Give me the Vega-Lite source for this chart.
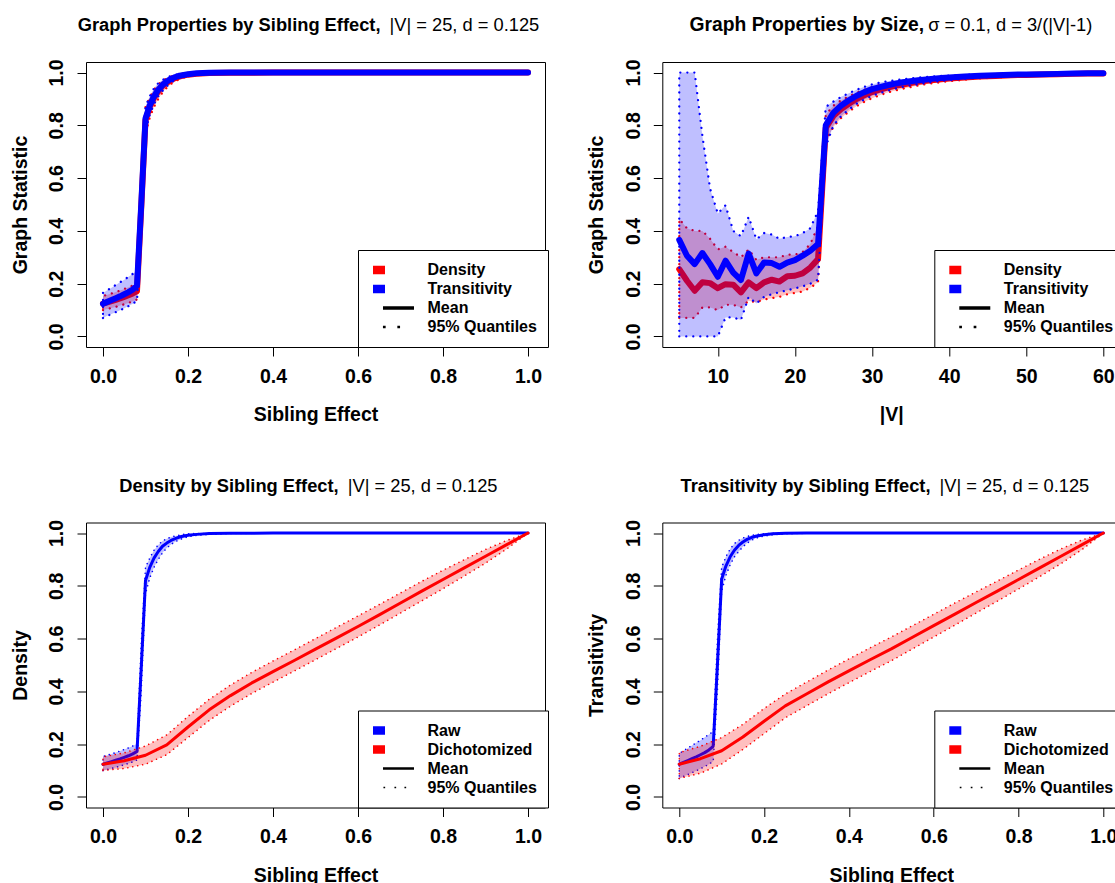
{
  "$schema": "https://vega.github.io/schema/vega-lite/v6.json",
  "padding": {"left": 9, "top": 15, "right": 0, "bottom": 0},
  "config": {
    "font": "Liberation Sans",
    "view": {"stroke": "black", "strokeWidth": 1},
    "axis": {"grid": false, "domain": false, "tickColor": "black", "tickSize": 9, "tickWidth": 1, "labelFont": "Liberation Sans", "labelFontSize": 19.5, "labelFontWeight": "bold", "labelColor": "black", "titleFont": "Liberation Sans", "titleFontSize": 19.5, "titleFontWeight": "bold", "titleColor": "black", "labelFlush": false, "labelOverlap": false},
    "axisBottom": {"labelBaseline": "alphabetic", "labelPadding": 26, "titleY": 73.75, "titleBaseline": "alphabetic"},
    "axisLeft": {"labelAngle": -90, "labelAlign": "center", "labelBaseline": "alphabetic", "labelPadding": 14.3, "titleX": -60, "titleBaseline": "alphabetic"},
    "axisTop": {"labels": false, "ticks": false, "domain": false, "grid": false, "titleY": -31.45, "titleBaseline": "alphabetic", "titleAngle": 0, "titleFontSize": 18.3},
    "legend": {"orient": "none", "legendX": 272, "legendY": 188, "title": null, "direction": "vertical", "strokeColor": "black", "fillColor": "white", "padding": 10.5, "symbolSize": 361, "symbolStrokeWidth": 0, "symbolOpacity": 1, "rowPadding": 0, "labelOffset": 40, "labelFont": "Liberation Sans", "labelFontSize": 16, "labelFontWeight": "bold", "labelColor": "black", "labelLimit": 400}
  },
  "resolve": {"scale": {"color": "independent", "shape": "independent"}, "legend": {"color": "independent", "shape": "independent"}},
  "datasets": {
    "p1": [
      {"x":0,"series":"Density","mean":0.124,"lo":0.100,"hi":0.153},
      {"x":0.01,"series":"Density","mean":0.129,"lo":0.104,"hi":0.158},
      {"x":0.02,"series":"Density","mean":0.134,"lo":0.108,"hi":0.163},
      {"x":0.03,"series":"Density","mean":0.139,"lo":0.112,"hi":0.168},
      {"x":0.04,"series":"Density","mean":0.144,"lo":0.117,"hi":0.174},
      {"x":0.05,"series":"Density","mean":0.150,"lo":0.122,"hi":0.180},
      {"x":0.06,"series":"Density","mean":0.156,"lo":0.127,"hi":0.186},
      {"x":0.07,"series":"Density","mean":0.163,"lo":0.133,"hi":0.193},
      {"x":0.08,"series":"Density","mean":0.172,"lo":0.140,"hi":0.202},
      {"x":0.09,"series":"Density","mean":0.49,"lo":0.40,"hi":0.58},
      {"x":0.10,"series":"Density","mean":0.82,"lo":0.77,"hi":0.87},
      {"x":0.11,"series":"Density","mean":0.87,"lo":0.83,"hi":0.905},
      {"x":0.12,"series":"Density","mean":0.905,"lo":0.87,"hi":0.935},
      {"x":0.13,"series":"Density","mean":0.93,"lo":0.90,"hi":0.955},
      {"x":0.14,"series":"Density","mean":0.95,"lo":0.925,"hi":0.97},
      {"x":0.15,"series":"Density","mean":0.962,"lo":0.943,"hi":0.978},
      {"x":0.16,"series":"Density","mean":0.972,"lo":0.957,"hi":0.985},
      {"x":0.17,"series":"Density","mean":0.979,"lo":0.967,"hi":0.989},
      {"x":0.18,"series":"Density","mean":0.985,"lo":0.975,"hi":0.992},
      {"x":0.19,"series":"Density","mean":0.989,"lo":0.981,"hi":0.995},
      {"x":0.20,"series":"Density","mean":0.992,"lo":0.986,"hi":0.997},
      {"x":0.22,"series":"Density","mean":0.995,"lo":0.991,"hi":0.998},
      {"x":0.25,"series":"Density","mean":0.998,"lo":0.995,"hi":0.999},
      {"x":0.30,"series":"Density","mean":0.999,"lo":0.998,"hi":1},
      {"x":0.40,"series":"Density","mean":1,"lo":1,"hi":1},
      {"x":0.50,"series":"Density","mean":1,"lo":1,"hi":1},
      {"x":0.60,"series":"Density","mean":1,"lo":1,"hi":1},
      {"x":0.70,"series":"Density","mean":1,"lo":1,"hi":1},
      {"x":0.80,"series":"Density","mean":1,"lo":1,"hi":1},
      {"x":0.90,"series":"Density","mean":1,"lo":1,"hi":1},
      {"x":1.00,"series":"Density","mean":1,"lo":1,"hi":1},
      {"x":0,"series":"Transitivity","mean":0.124,"lo":0.070,"hi":0.165},
      {"x":0.01,"series":"Transitivity","mean":0.131,"lo":0.078,"hi":0.175},
      {"x":0.02,"series":"Transitivity","mean":0.138,"lo":0.085,"hi":0.185},
      {"x":0.03,"series":"Transitivity","mean":0.145,"lo":0.092,"hi":0.195},
      {"x":0.04,"series":"Transitivity","mean":0.152,"lo":0.099,"hi":0.205},
      {"x":0.05,"series":"Transitivity","mean":0.160,"lo":0.107,"hi":0.215},
      {"x":0.06,"series":"Transitivity","mean":0.168,"lo":0.115,"hi":0.226},
      {"x":0.07,"series":"Transitivity","mean":0.178,"lo":0.124,"hi":0.237},
      {"x":0.08,"series":"Transitivity","mean":0.192,"lo":0.135,"hi":0.248},
      {"x":0.09,"series":"Transitivity","mean":0.50,"lo":0.40,"hi":0.60},
      {"x":0.10,"series":"Transitivity","mean":0.826,"lo":0.78,"hi":0.87},
      {"x":0.11,"series":"Transitivity","mean":0.875,"lo":0.84,"hi":0.91},
      {"x":0.12,"series":"Transitivity","mean":0.91,"lo":0.88,"hi":0.94},
      {"x":0.13,"series":"Transitivity","mean":0.935,"lo":0.91,"hi":0.96},
      {"x":0.14,"series":"Transitivity","mean":0.953,"lo":0.93,"hi":0.972},
      {"x":0.15,"series":"Transitivity","mean":0.966,"lo":0.948,"hi":0.981},
      {"x":0.16,"series":"Transitivity","mean":0.976,"lo":0.962,"hi":0.987},
      {"x":0.17,"series":"Transitivity","mean":0.983,"lo":0.972,"hi":0.991},
      {"x":0.18,"series":"Transitivity","mean":0.988,"lo":0.98,"hi":0.994},
      {"x":0.19,"series":"Transitivity","mean":0.991,"lo":0.985,"hi":0.996},
      {"x":0.20,"series":"Transitivity","mean":0.994,"lo":0.989,"hi":0.997},
      {"x":0.22,"series":"Transitivity","mean":0.997,"lo":0.993,"hi":0.999},
      {"x":0.25,"series":"Transitivity","mean":0.999,"lo":0.997,"hi":1},
      {"x":0.30,"series":"Transitivity","mean":1,"lo":0.999,"hi":1},
      {"x":0.40,"series":"Transitivity","mean":1,"lo":1,"hi":1},
      {"x":0.50,"series":"Transitivity","mean":1,"lo":1,"hi":1},
      {"x":0.60,"series":"Transitivity","mean":1,"lo":1,"hi":1},
      {"x":0.70,"series":"Transitivity","mean":1,"lo":1,"hi":1},
      {"x":0.80,"series":"Transitivity","mean":1,"lo":1,"hi":1},
      {"x":0.90,"series":"Transitivity","mean":1,"lo":1,"hi":1},
      {"x":1.00,"series":"Transitivity","mean":1,"lo":1,"hi":1}
    ],
    "p2": [
      {"x":5,"series":"Density","mean":0.255,"lo":0.07,"hi":0.445},
      {"x":6,"series":"Density","mean":0.211,"lo":0.07,"hi":0.41},
      {"x":7,"series":"Density","mean":0.173,"lo":0.07,"hi":0.40},
      {"x":8,"series":"Density","mean":0.205,"lo":0.11,"hi":0.40},
      {"x":9,"series":"Density","mean":0.202,"lo":0.11,"hi":0.37},
      {"x":10,"series":"Density","mean":0.183,"lo":0.10,"hi":0.33},
      {"x":11,"series":"Density","mean":0.198,"lo":0.12,"hi":0.34},
      {"x":12,"series":"Density","mean":0.196,"lo":0.12,"hi":0.32},
      {"x":13,"series":"Density","mean":0.167,"lo":0.11,"hi":0.30},
      {"x":14,"series":"Density","mean":0.205,"lo":0.135,"hi":0.33},
      {"x":15,"series":"Density","mean":0.183,"lo":0.13,"hi":0.29},
      {"x":16,"series":"Density","mean":0.205,"lo":0.14,"hi":0.30},
      {"x":17,"series":"Density","mean":0.215,"lo":0.145,"hi":0.30},
      {"x":18,"series":"Density","mean":0.208,"lo":0.15,"hi":0.30},
      {"x":19,"series":"Density","mean":0.228,"lo":0.16,"hi":0.31},
      {"x":20,"series":"Density","mean":0.23,"lo":0.165,"hi":0.31},
      {"x":21,"series":"Density","mean":0.239,"lo":0.17,"hi":0.32},
      {"x":22,"series":"Density","mean":0.261,"lo":0.185,"hi":0.35},
      {"x":23,"series":"Density","mean":0.293,"lo":0.205,"hi":0.42},
      {"x":24,"series":"Density","mean":0.79,"lo":0.74,"hi":0.84},
      {"x":25,"series":"Density","mean":0.836,"lo":0.795,"hi":0.875},
      {"x":26,"series":"Density","mean":0.862,"lo":0.828,"hi":0.895},
      {"x":27,"series":"Density","mean":0.882,"lo":0.852,"hi":0.91},
      {"x":28,"series":"Density","mean":0.9,"lo":0.873,"hi":0.924},
      {"x":29,"series":"Density","mean":0.914,"lo":0.889,"hi":0.935},
      {"x":30,"series":"Density","mean":0.926,"lo":0.903,"hi":0.945},
      {"x":31,"series":"Density","mean":0.935,"lo":0.914,"hi":0.953},
      {"x":32,"series":"Density","mean":0.943,"lo":0.924,"hi":0.959},
      {"x":33,"series":"Density","mean":0.95,"lo":0.932,"hi":0.965},
      {"x":34,"series":"Density","mean":0.955,"lo":0.939,"hi":0.969},
      {"x":35,"series":"Density","mean":0.96,"lo":0.945,"hi":0.973},
      {"x":36,"series":"Density","mean":0.965,"lo":0.951,"hi":0.977},
      {"x":37,"series":"Density","mean":0.969,"lo":0.956,"hi":0.98},
      {"x":38,"series":"Density","mean":0.972,"lo":0.96,"hi":0.982},
      {"x":39,"series":"Density","mean":0.975,"lo":0.964,"hi":0.984},
      {"x":40,"series":"Density","mean":0.977,"lo":0.967,"hi":0.986},
      {"x":42,"series":"Density","mean":0.981,"lo":0.973,"hi":0.989},
      {"x":44,"series":"Density","mean":0.985,"lo":0.978,"hi":0.991},
      {"x":46,"series":"Density","mean":0.987,"lo":0.981,"hi":0.993},
      {"x":48,"series":"Density","mean":0.99,"lo":0.984,"hi":0.994},
      {"x":50,"series":"Density","mean":0.991,"lo":0.986,"hi":0.995},
      {"x":52,"series":"Density","mean":0.993,"lo":0.988,"hi":0.996},
      {"x":54,"series":"Density","mean":0.994,"lo":0.99,"hi":0.997},
      {"x":56,"series":"Density","mean":0.995,"lo":0.991,"hi":0.998},
      {"x":58,"series":"Density","mean":0.996,"lo":0.992,"hi":0.998},
      {"x":60,"series":"Density","mean":0.996,"lo":0.993,"hi":0.999},
      {"x":5,"series":"Transitivity","mean":0.366,"lo":0.0,"hi":1.0},
      {"x":6,"series":"Transitivity","mean":0.306,"lo":0.0,"hi":1.0},
      {"x":7,"series":"Transitivity","mean":0.274,"lo":0.0,"hi":1.0},
      {"x":8,"series":"Transitivity","mean":0.316,"lo":0.0,"hi":0.76},
      {"x":9,"series":"Transitivity","mean":0.274,"lo":0.0,"hi":0.56},
      {"x":10,"series":"Transitivity","mean":0.226,"lo":0.0,"hi":0.466},
      {"x":11,"series":"Transitivity","mean":0.287,"lo":0.072,"hi":0.497},
      {"x":12,"series":"Transitivity","mean":0.242,"lo":0.072,"hi":0.40},
      {"x":13,"series":"Transitivity","mean":0.214,"lo":0.062,"hi":0.38},
      {"x":14,"series":"Transitivity","mean":0.314,"lo":0.15,"hi":0.453},
      {"x":15,"series":"Transitivity","mean":0.239,"lo":0.125,"hi":0.368},
      {"x":16,"series":"Transitivity","mean":0.28,"lo":0.15,"hi":0.392},
      {"x":17,"series":"Transitivity","mean":0.278,"lo":0.16,"hi":0.386},
      {"x":18,"series":"Transitivity","mean":0.264,"lo":0.168,"hi":0.37},
      {"x":19,"series":"Transitivity","mean":0.28,"lo":0.175,"hi":0.377},
      {"x":20,"series":"Transitivity","mean":0.289,"lo":0.182,"hi":0.38},
      {"x":21,"series":"Transitivity","mean":0.306,"lo":0.19,"hi":0.392},
      {"x":22,"series":"Transitivity","mean":0.325,"lo":0.2,"hi":0.41},
      {"x":23,"series":"Transitivity","mean":0.35,"lo":0.215,"hi":0.475},
      {"x":24,"series":"Transitivity","mean":0.8,"lo":0.72,"hi":0.87},
      {"x":25,"series":"Transitivity","mean":0.848,"lo":0.8,"hi":0.89},
      {"x":26,"series":"Transitivity","mean":0.875,"lo":0.835,"hi":0.908},
      {"x":27,"series":"Transitivity","mean":0.895,"lo":0.86,"hi":0.922},
      {"x":28,"series":"Transitivity","mean":0.912,"lo":0.882,"hi":0.935},
      {"x":29,"series":"Transitivity","mean":0.926,"lo":0.898,"hi":0.946},
      {"x":30,"series":"Transitivity","mean":0.937,"lo":0.912,"hi":0.955},
      {"x":31,"series":"Transitivity","mean":0.945,"lo":0.922,"hi":0.962},
      {"x":32,"series":"Transitivity","mean":0.952,"lo":0.931,"hi":0.967},
      {"x":33,"series":"Transitivity","mean":0.958,"lo":0.939,"hi":0.971},
      {"x":34,"series":"Transitivity","mean":0.963,"lo":0.946,"hi":0.975},
      {"x":35,"series":"Transitivity","mean":0.967,"lo":0.951,"hi":0.978},
      {"x":36,"series":"Transitivity","mean":0.971,"lo":0.956,"hi":0.981},
      {"x":37,"series":"Transitivity","mean":0.974,"lo":0.961,"hi":0.983},
      {"x":38,"series":"Transitivity","mean":0.977,"lo":0.965,"hi":0.985},
      {"x":39,"series":"Transitivity","mean":0.979,"lo":0.968,"hi":0.987},
      {"x":40,"series":"Transitivity","mean":0.981,"lo":0.971,"hi":0.988},
      {"x":42,"series":"Transitivity","mean":0.985,"lo":0.977,"hi":0.991},
      {"x":44,"series":"Transitivity","mean":0.988,"lo":0.981,"hi":0.993},
      {"x":46,"series":"Transitivity","mean":0.99,"lo":0.984,"hi":0.994},
      {"x":48,"series":"Transitivity","mean":0.992,"lo":0.987,"hi":0.995},
      {"x":50,"series":"Transitivity","mean":0.993,"lo":0.989,"hi":0.996},
      {"x":52,"series":"Transitivity","mean":0.994,"lo":0.991,"hi":0.997},
      {"x":54,"series":"Transitivity","mean":0.995,"lo":0.992,"hi":0.998},
      {"x":56,"series":"Transitivity","mean":0.996,"lo":0.993,"hi":0.998},
      {"x":58,"series":"Transitivity","mean":0.997,"lo":0.994,"hi":0.999},
      {"x":60,"series":"Transitivity","mean":0.997,"lo":0.995,"hi":0.999}
    ],
    "p3": [
      {"x":0,"series":"Raw","mean":0.124,"lo":0.100,"hi":0.153},
      {"x":0.01,"series":"Raw","mean":0.129,"lo":0.104,"hi":0.158},
      {"x":0.02,"series":"Raw","mean":0.134,"lo":0.108,"hi":0.163},
      {"x":0.03,"series":"Raw","mean":0.139,"lo":0.112,"hi":0.168},
      {"x":0.04,"series":"Raw","mean":0.144,"lo":0.117,"hi":0.174},
      {"x":0.05,"series":"Raw","mean":0.150,"lo":0.122,"hi":0.180},
      {"x":0.06,"series":"Raw","mean":0.156,"lo":0.127,"hi":0.186},
      {"x":0.07,"series":"Raw","mean":0.163,"lo":0.133,"hi":0.193},
      {"x":0.08,"series":"Raw","mean":0.172,"lo":0.140,"hi":0.202},
      {"x":0.09,"series":"Raw","mean":0.49,"lo":0.40,"hi":0.58},
      {"x":0.10,"series":"Raw","mean":0.82,"lo":0.77,"hi":0.87},
      {"x":0.11,"series":"Raw","mean":0.87,"lo":0.83,"hi":0.905},
      {"x":0.12,"series":"Raw","mean":0.905,"lo":0.87,"hi":0.935},
      {"x":0.13,"series":"Raw","mean":0.93,"lo":0.90,"hi":0.955},
      {"x":0.14,"series":"Raw","mean":0.95,"lo":0.925,"hi":0.97},
      {"x":0.15,"series":"Raw","mean":0.962,"lo":0.943,"hi":0.978},
      {"x":0.16,"series":"Raw","mean":0.972,"lo":0.957,"hi":0.985},
      {"x":0.17,"series":"Raw","mean":0.979,"lo":0.967,"hi":0.989},
      {"x":0.18,"series":"Raw","mean":0.985,"lo":0.975,"hi":0.992},
      {"x":0.19,"series":"Raw","mean":0.989,"lo":0.981,"hi":0.995},
      {"x":0.20,"series":"Raw","mean":0.992,"lo":0.986,"hi":0.997},
      {"x":0.22,"series":"Raw","mean":0.995,"lo":0.991,"hi":0.998},
      {"x":0.25,"series":"Raw","mean":0.998,"lo":0.995,"hi":0.999},
      {"x":0.30,"series":"Raw","mean":0.999,"lo":0.998,"hi":1},
      {"x":0.40,"series":"Raw","mean":1,"lo":1,"hi":1},
      {"x":0.50,"series":"Raw","mean":1,"lo":1,"hi":1},
      {"x":0.60,"series":"Raw","mean":1,"lo":1,"hi":1},
      {"x":0.70,"series":"Raw","mean":1,"lo":1,"hi":1},
      {"x":0.80,"series":"Raw","mean":1,"lo":1,"hi":1},
      {"x":0.90,"series":"Raw","mean":1,"lo":1,"hi":1},
      {"x":1.00,"series":"Raw","mean":1,"lo":1,"hi":1},
      {"x":0,"series":"Dichotomized","mean":0.124,"lo":0.100,"hi":0.152},
      {"x":0.05,"series":"Dichotomized","mean":0.137,"lo":0.108,"hi":0.167},
      {"x":0.10,"series":"Dichotomized","mean":0.158,"lo":0.124,"hi":0.193},
      {"x":0.15,"series":"Dichotomized","mean":0.197,"lo":0.160,"hi":0.235},
      {"x":0.20,"series":"Dichotomized","mean":0.265,"lo":0.225,"hi":0.305},
      {"x":0.25,"series":"Dichotomized","mean":0.330,"lo":0.290,"hi":0.370},
      {"x":0.30,"series":"Dichotomized","mean":0.384,"lo":0.344,"hi":0.424},
      {"x":0.35,"series":"Dichotomized","mean":0.432,"lo":0.392,"hi":0.472},
      {"x":0.40,"series":"Dichotomized","mean":0.475,"lo":0.435,"hi":0.515},
      {"x":0.45,"series":"Dichotomized","mean":0.517,"lo":0.477,"hi":0.557},
      {"x":0.50,"series":"Dichotomized","mean":0.560,"lo":0.520,"hi":0.600},
      {"x":0.55,"series":"Dichotomized","mean":0.603,"lo":0.563,"hi":0.643},
      {"x":0.60,"series":"Dichotomized","mean":0.646,"lo":0.606,"hi":0.686},
      {"x":0.65,"series":"Dichotomized","mean":0.690,"lo":0.651,"hi":0.729},
      {"x":0.70,"series":"Dichotomized","mean":0.735,"lo":0.697,"hi":0.773},
      {"x":0.75,"series":"Dichotomized","mean":0.780,"lo":0.743,"hi":0.817},
      {"x":0.80,"series":"Dichotomized","mean":0.824,"lo":0.789,"hi":0.859},
      {"x":0.85,"series":"Dichotomized","mean":0.868,"lo":0.837,"hi":0.899},
      {"x":0.90,"series":"Dichotomized","mean":0.912,"lo":0.886,"hi":0.938},
      {"x":0.95,"series":"Dichotomized","mean":0.956,"lo":0.940,"hi":0.972},
      {"x":1.00,"series":"Dichotomized","mean":1.0,"lo":1.0,"hi":1.0}
    ],
    "p4": [
      {"x":0,"series":"Raw","mean":0.124,"lo":0.070,"hi":0.165},
      {"x":0.01,"series":"Raw","mean":0.131,"lo":0.078,"hi":0.175},
      {"x":0.02,"series":"Raw","mean":0.138,"lo":0.085,"hi":0.185},
      {"x":0.03,"series":"Raw","mean":0.145,"lo":0.092,"hi":0.195},
      {"x":0.04,"series":"Raw","mean":0.152,"lo":0.099,"hi":0.205},
      {"x":0.05,"series":"Raw","mean":0.160,"lo":0.107,"hi":0.215},
      {"x":0.06,"series":"Raw","mean":0.168,"lo":0.115,"hi":0.226},
      {"x":0.07,"series":"Raw","mean":0.178,"lo":0.124,"hi":0.237},
      {"x":0.08,"series":"Raw","mean":0.192,"lo":0.135,"hi":0.248},
      {"x":0.09,"series":"Raw","mean":0.50,"lo":0.40,"hi":0.60},
      {"x":0.10,"series":"Raw","mean":0.826,"lo":0.78,"hi":0.87},
      {"x":0.11,"series":"Raw","mean":0.875,"lo":0.84,"hi":0.91},
      {"x":0.12,"series":"Raw","mean":0.91,"lo":0.88,"hi":0.94},
      {"x":0.13,"series":"Raw","mean":0.935,"lo":0.91,"hi":0.96},
      {"x":0.14,"series":"Raw","mean":0.953,"lo":0.93,"hi":0.972},
      {"x":0.15,"series":"Raw","mean":0.966,"lo":0.948,"hi":0.981},
      {"x":0.16,"series":"Raw","mean":0.976,"lo":0.962,"hi":0.987},
      {"x":0.17,"series":"Raw","mean":0.983,"lo":0.972,"hi":0.991},
      {"x":0.18,"series":"Raw","mean":0.988,"lo":0.98,"hi":0.994},
      {"x":0.19,"series":"Raw","mean":0.991,"lo":0.985,"hi":0.996},
      {"x":0.20,"series":"Raw","mean":0.994,"lo":0.989,"hi":0.997},
      {"x":0.22,"series":"Raw","mean":0.997,"lo":0.993,"hi":0.999},
      {"x":0.25,"series":"Raw","mean":0.999,"lo":0.997,"hi":1},
      {"x":0.30,"series":"Raw","mean":1,"lo":0.999,"hi":1},
      {"x":0.40,"series":"Raw","mean":1,"lo":1,"hi":1},
      {"x":0.50,"series":"Raw","mean":1,"lo":1,"hi":1},
      {"x":0.60,"series":"Raw","mean":1,"lo":1,"hi":1},
      {"x":0.70,"series":"Raw","mean":1,"lo":1,"hi":1},
      {"x":0.80,"series":"Raw","mean":1,"lo":1,"hi":1},
      {"x":0.90,"series":"Raw","mean":1,"lo":1,"hi":1},
      {"x":1.00,"series":"Raw","mean":1,"lo":1,"hi":1},
      {"x":0,"series":"Dichotomized","mean":0.124,"lo":0.070,"hi":0.168},
      {"x":0.05,"series":"Dichotomized","mean":0.145,"lo":0.090,"hi":0.192},
      {"x":0.10,"series":"Dichotomized","mean":0.175,"lo":0.125,"hi":0.225},
      {"x":0.15,"series":"Dichotomized","mean":0.227,"lo":0.180,"hi":0.275},
      {"x":0.20,"series":"Dichotomized","mean":0.287,"lo":0.240,"hi":0.335},
      {"x":0.25,"series":"Dichotomized","mean":0.345,"lo":0.300,"hi":0.390},
      {"x":0.30,"series":"Dichotomized","mean":0.390,"lo":0.345,"hi":0.435},
      {"x":0.35,"series":"Dichotomized","mean":0.435,"lo":0.390,"hi":0.480},
      {"x":0.40,"series":"Dichotomized","mean":0.478,"lo":0.433,"hi":0.523},
      {"x":0.45,"series":"Dichotomized","mean":0.520,"lo":0.475,"hi":0.565},
      {"x":0.50,"series":"Dichotomized","mean":0.561,"lo":0.516,"hi":0.606},
      {"x":0.55,"series":"Dichotomized","mean":0.605,"lo":0.561,"hi":0.649},
      {"x":0.60,"series":"Dichotomized","mean":0.649,"lo":0.606,"hi":0.692},
      {"x":0.65,"series":"Dichotomized","mean":0.693,"lo":0.651,"hi":0.735},
      {"x":0.70,"series":"Dichotomized","mean":0.737,"lo":0.697,"hi":0.777},
      {"x":0.75,"series":"Dichotomized","mean":0.780,"lo":0.742,"hi":0.818},
      {"x":0.80,"series":"Dichotomized","mean":0.824,"lo":0.788,"hi":0.860},
      {"x":0.85,"series":"Dichotomized","mean":0.868,"lo":0.835,"hi":0.901},
      {"x":0.90,"series":"Dichotomized","mean":0.912,"lo":0.884,"hi":0.940},
      {"x":0.95,"series":"Dichotomized","mean":0.956,"lo":0.938,"hi":0.974},
      {"x":1.00,"series":"Dichotomized","mean":1.0,"lo":1.0,"hi":1.0}
    ]
  },
  "columns": 2,
  "spacing": {"row": 175.5, "column": 117.3},
  "bounds": "flush",
  "concat": [
    {
      "width": 459, "height": 285,
      "data": {"name": "p1"},
      "resolve": {"axis": {"x": "independent", "y": "independent"}},
      "layer": [
        {
          "transform": [{"filter": "datum.series === 'Density'"}],
          "mark": {"type": "area", "fillOpacity": 0.25, "stroke": "#FF0000", "strokeWidth": 2.3, "strokeDash": [0.01, 7], "strokeCap": "round", "strokeOpacity": 1},
          "encoding": {
            "x": {"field": "x", "type": "quantitative", "scale": {"domain": [-0.04, 1.04], "nice": false, "zero": false}, "axis": {"orient": "bottom", "title": "Sibling Effect", "values": [0, 0.2, 0.4, 0.6, 0.8, 1], "format": ".1f"}},
            "y": {"field": "lo", "type": "quantitative", "scale": {"domain": [-0.04, 1.04], "nice": false, "zero": false}, "axis": {"orient": "left", "title": "Graph Statistic", "values": [0, 0.2, 0.4, 0.6, 0.8, 1], "format": ".1f"}},
            "y2": {"field": "hi"},
            "color": {"field": "series", "type": "nominal", "scale": {"domain": ["Density", "Transitivity", "Mean", "95% Quantiles"], "range": ["#FF0000", "#0000FF", "#000000", "#000000"]}}
          }
        },
        {
          "transform": [{"filter": "datum.series === 'Density'"}],
          "mark": {"type": "line", "strokeWidth": 6, "strokeCap": "round", "strokeJoin": "round"},
          "encoding": {
            "x": {"field": "x", "type": "quantitative", "scale": {"domain": [-0.04, 1.04], "nice": false, "zero": false}, "axis": {"orient": "top", "title": "Graph Properties by Sibling Effect,", "titleX": 294, "titleAlign": "right", "titleFontWeight": "bold"}},
            "y": {"field": "mean", "type": "quantitative", "scale": {"domain": [-0.04, 1.04], "nice": false, "zero": false}, "axis": null},
            "color": {"field": "series", "type": "nominal", "scale": {"domain": ["Density", "Transitivity", "Mean", "95% Quantiles"], "range": ["#FF0000", "#0000FF", "#000000", "#000000"]}}
          }
        },
        {
          "transform": [{"filter": "datum.series === 'Transitivity'"}],
          "mark": {"type": "area", "fillOpacity": 0.25, "stroke": "#0000FF", "strokeWidth": 2.3, "strokeDash": [0.01, 7], "strokeCap": "round", "strokeOpacity": 1},
          "encoding": {
            "x": {"field": "x", "type": "quantitative", "scale": {"domain": [-0.04, 1.04], "nice": false, "zero": false}, "axis": {"orient": "top", "title": "|V| = 25, d = 0.125", "titleX": 303, "titleAlign": "left", "titleFontWeight": "normal"}},
            "y": {"field": "lo", "type": "quantitative", "scale": {"domain": [-0.04, 1.04], "nice": false, "zero": false}, "axis": null},
            "y2": {"field": "hi"},
            "color": {"field": "series", "type": "nominal", "scale": {"domain": ["Density", "Transitivity", "Mean", "95% Quantiles"], "range": ["#FF0000", "#0000FF", "#000000", "#000000"]}}
          }
        },
        {
          "transform": [{"filter": "datum.series === 'Transitivity'"}],
          "mark": {"type": "line", "strokeWidth": 6, "strokeCap": "round", "strokeJoin": "round"},
          "encoding": {
            "x": {"field": "x", "type": "quantitative", "scale": {"domain": [-0.04, 1.04], "nice": false, "zero": false}, "axis": null},
            "y": {"field": "mean", "type": "quantitative", "scale": {"domain": [-0.04, 1.04], "nice": false, "zero": false}, "axis": null},
            "color": {"field": "series", "type": "nominal", "scale": {"domain": ["Density", "Transitivity", "Mean", "95% Quantiles"], "range": ["#FF0000", "#0000FF", "#000000", "#000000"]}}
          }
        },
        {
          "mark": {"type": "point", "filled": true, "opacity": 0},
          "encoding": {
            "x": {"field": "x", "type": "quantitative", "scale": {"domain": [-0.04, 1.04], "nice": false, "zero": false}, "axis": null},
            "y": {"field": "mean", "type": "quantitative", "scale": {"domain": [-0.04, 1.04], "nice": false, "zero": false}, "axis": null},
            "color": {"field": "series", "type": "nominal", "scale": {"domain": ["Density", "Transitivity", "Mean", "95% Quantiles"], "range": ["#FF0000", "#0000FF", "#000000", "#000000"]}},
            "shape": {"field": "series", "type": "nominal", "scale": {"domain": ["Density", "Transitivity", "Mean", "95% Quantiles"], "range": ["M-1,-1V1M-0.526,-0.458H0.737V0.458H-0.526Z", "M-1,-1V1M-0.526,-0.458H0.737V0.458H-0.526Z", "M-1,-1V1M0.526,-0.174H3.789V0.174H0.526Z", "M-1,-1V1M0.521,-0.142H0.805V0.142H0.521Z M2.037,-0.142H2.321V0.142H2.037Z"]}}
          }
        }
      ]
    },
    {
      "width": 458, "height": 285,
      "data": {"name": "p2"},
      "resolve": {"axis": {"x": "independent", "y": "independent"}},
      "layer": [
        {
          "transform": [{"filter": "datum.series === 'Density'"}],
          "mark": {"type": "area", "fillOpacity": 0.25, "stroke": "#FF0000", "strokeWidth": 2.3, "strokeDash": [0.01, 7], "strokeCap": "round", "strokeOpacity": 1},
          "encoding": {
            "x": {"field": "x", "type": "quantitative", "scale": {"domain": [2.8, 62.2], "nice": false, "zero": false}, "axis": {"orient": "bottom", "title": "|V|", "values": [10, 20, 30, 40, 50, 60], "format": "d"}},
            "y": {"field": "lo", "type": "quantitative", "scale": {"domain": [-0.04, 1.04], "nice": false, "zero": false}, "axis": {"orient": "left", "title": "Graph Statistic", "values": [0, 0.2, 0.4, 0.6, 0.8, 1], "format": ".1f"}},
            "y2": {"field": "hi"},
            "color": {"field": "series", "type": "nominal", "scale": {"domain": ["Density", "Transitivity", "Mean", "95% Quantiles"], "range": ["#FF0000", "#0000FF", "#000000", "#000000"]}}
          }
        },
        {
          "transform": [{"filter": "datum.series === 'Density'"}],
          "mark": {"type": "line", "strokeWidth": 6, "strokeCap": "round", "strokeJoin": "round"},
          "encoding": {
            "x": {"field": "x", "type": "quantitative", "scale": {"domain": [2.8, 62.2], "nice": false, "zero": false}, "axis": {"orient": "top", "title": "Graph Properties by Size,", "titleX": 261.4, "titleAlign": "right", "titleFontWeight": "bold", "titleFontSize": 19.3}},
            "y": {"field": "mean", "type": "quantitative", "scale": {"domain": [-0.04, 1.04], "nice": false, "zero": false}, "axis": null},
            "color": {"field": "series", "type": "nominal", "scale": {"domain": ["Density", "Transitivity", "Mean", "95% Quantiles"], "range": ["#FF0000", "#0000FF", "#000000", "#000000"]}}
          }
        },
        {
          "transform": [{"filter": "datum.series === 'Transitivity'"}],
          "mark": {"type": "area", "fillOpacity": 0.25, "stroke": "#0000FF", "strokeWidth": 2.3, "strokeDash": [0.01, 7], "strokeCap": "round", "strokeOpacity": 1},
          "encoding": {
            "x": {"field": "x", "type": "quantitative", "scale": {"domain": [2.8, 62.2], "nice": false, "zero": false}, "axis": {"orient": "top", "title": "σ = 0.1, d = 3/(|V|-1)", "titleX": 265.4, "titleAlign": "left", "titleFontWeight": "normal"}},
            "y": {"field": "lo", "type": "quantitative", "scale": {"domain": [-0.04, 1.04], "nice": false, "zero": false}, "axis": null},
            "y2": {"field": "hi"},
            "color": {"field": "series", "type": "nominal", "scale": {"domain": ["Density", "Transitivity", "Mean", "95% Quantiles"], "range": ["#FF0000", "#0000FF", "#000000", "#000000"]}}
          }
        },
        {
          "transform": [{"filter": "datum.series === 'Transitivity'"}],
          "mark": {"type": "line", "strokeWidth": 6, "strokeCap": "round", "strokeJoin": "round"},
          "encoding": {
            "x": {"field": "x", "type": "quantitative", "scale": {"domain": [2.8, 62.2], "nice": false, "zero": false}, "axis": null},
            "y": {"field": "mean", "type": "quantitative", "scale": {"domain": [-0.04, 1.04], "nice": false, "zero": false}, "axis": null},
            "color": {"field": "series", "type": "nominal", "scale": {"domain": ["Density", "Transitivity", "Mean", "95% Quantiles"], "range": ["#FF0000", "#0000FF", "#000000", "#000000"]}}
          }
        },
        {
          "mark": {"type": "point", "filled": true, "opacity": 0},
          "encoding": {
            "x": {"field": "x", "type": "quantitative", "scale": {"domain": [2.8, 62.2], "nice": false, "zero": false}, "axis": null},
            "y": {"field": "mean", "type": "quantitative", "scale": {"domain": [-0.04, 1.04], "nice": false, "zero": false}, "axis": null},
            "color": {"field": "series", "type": "nominal", "scale": {"domain": ["Density", "Transitivity", "Mean", "95% Quantiles"], "range": ["#FF0000", "#0000FF", "#000000", "#000000"]}},
            "shape": {"field": "series", "type": "nominal", "scale": {"domain": ["Density", "Transitivity", "Mean", "95% Quantiles"], "range": ["M-1,-1V1M-0.526,-0.458H0.737V0.458H-0.526Z", "M-1,-1V1M-0.526,-0.458H0.737V0.458H-0.526Z", "M-1,-1V1M0.526,-0.174H3.789V0.174H0.526Z", "M-1,-1V1M0.521,-0.142H0.805V0.142H0.521Z M2.037,-0.142H2.321V0.142H2.037Z"]}}
          }
        }
      ]
    },
    {
      "width": 459, "height": 285,
      "data": {"name": "p3"},
      "resolve": {"axis": {"x": "independent", "y": "independent"}},
      "layer": [
        {
          "transform": [{"filter": "datum.series === 'Raw'"}],
          "mark": {"type": "area", "fillOpacity": 0.25, "stroke": "#0000FF", "strokeWidth": 1.6, "strokeDash": [0.01, 5], "strokeCap": "round", "strokeOpacity": 1},
          "encoding": {
            "x": {"field": "x", "type": "quantitative", "scale": {"domain": [-0.04, 1.04], "nice": false, "zero": false}, "axis": {"orient": "bottom", "title": "Sibling Effect", "values": [0, 0.2, 0.4, 0.6, 0.8, 1], "format": ".1f"}},
            "y": {"field": "lo", "type": "quantitative", "scale": {"domain": [-0.04, 1.04], "nice": false, "zero": false}, "axis": {"orient": "left", "title": "Density", "values": [0, 0.2, 0.4, 0.6, 0.8, 1], "format": ".1f"}},
            "y2": {"field": "hi"},
            "color": {"field": "series", "type": "nominal", "scale": {"domain": ["Raw", "Dichotomized", "Mean", "95% Quantiles"], "range": ["#0000FF", "#FF0000", "#000000", "#000000"]}}
          }
        },
        {
          "transform": [{"filter": "datum.series === 'Raw'"}],
          "mark": {"type": "line", "strokeWidth": 3, "strokeCap": "round", "strokeJoin": "round"},
          "encoding": {
            "x": {"field": "x", "type": "quantitative", "scale": {"domain": [-0.04, 1.04], "nice": false, "zero": false}, "axis": {"orient": "top", "title": "Density by Sibling Effect,", "titleX": 252.2, "titleAlign": "right", "titleFontWeight": "bold"}},
            "y": {"field": "mean", "type": "quantitative", "scale": {"domain": [-0.04, 1.04], "nice": false, "zero": false}, "axis": null},
            "color": {"field": "series", "type": "nominal", "scale": {"domain": ["Raw", "Dichotomized", "Mean", "95% Quantiles"], "range": ["#0000FF", "#FF0000", "#000000", "#000000"]}}
          }
        },
        {
          "transform": [{"filter": "datum.series === 'Dichotomized'"}],
          "mark": {"type": "area", "fillOpacity": 0.25, "stroke": "#FF0000", "strokeWidth": 1.6, "strokeDash": [0.01, 5], "strokeCap": "round", "strokeOpacity": 1},
          "encoding": {
            "x": {"field": "x", "type": "quantitative", "scale": {"domain": [-0.04, 1.04], "nice": false, "zero": false}, "axis": {"orient": "top", "title": "|V| = 25, d = 0.125", "titleX": 261.2, "titleAlign": "left", "titleFontWeight": "normal"}},
            "y": {"field": "lo", "type": "quantitative", "scale": {"domain": [-0.04, 1.04], "nice": false, "zero": false}, "axis": null},
            "y2": {"field": "hi"},
            "color": {"field": "series", "type": "nominal", "scale": {"domain": ["Raw", "Dichotomized", "Mean", "95% Quantiles"], "range": ["#0000FF", "#FF0000", "#000000", "#000000"]}}
          }
        },
        {
          "transform": [{"filter": "datum.series === 'Dichotomized'"}],
          "mark": {"type": "line", "strokeWidth": 3, "strokeCap": "round", "strokeJoin": "round"},
          "encoding": {
            "x": {"field": "x", "type": "quantitative", "scale": {"domain": [-0.04, 1.04], "nice": false, "zero": false}, "axis": null},
            "y": {"field": "mean", "type": "quantitative", "scale": {"domain": [-0.04, 1.04], "nice": false, "zero": false}, "axis": null},
            "color": {"field": "series", "type": "nominal", "scale": {"domain": ["Raw", "Dichotomized", "Mean", "95% Quantiles"], "range": ["#0000FF", "#FF0000", "#000000", "#000000"]}}
          }
        },
        {
          "mark": {"type": "point", "filled": true, "opacity": 0},
          "encoding": {
            "x": {"field": "x", "type": "quantitative", "scale": {"domain": [-0.04, 1.04], "nice": false, "zero": false}, "axis": null},
            "y": {"field": "mean", "type": "quantitative", "scale": {"domain": [-0.04, 1.04], "nice": false, "zero": false}, "axis": null},
            "color": {"field": "series", "type": "nominal", "scale": {"domain": ["Raw", "Dichotomized", "Mean", "95% Quantiles"], "range": ["#0000FF", "#FF0000", "#000000", "#000000"]}},
            "shape": {"field": "series", "type": "nominal", "scale": {"domain": ["Raw", "Dichotomized", "Mean", "95% Quantiles"], "range": ["M-1,-1V1M-0.526,-0.458H0.737V0.458H-0.526Z", "M-1,-1V1M-0.526,-0.458H0.737V0.458H-0.526Z", "M-1,-1V1M0.526,-0.121H3.789V0.121H0.526Z", "M-1,-1V1M0.573,-0.09H0.753V0.09H0.573Z M1.731,-0.09H1.911V0.09H1.731Z M2.784,-0.09H2.964V0.09H2.784Z"]}}
          }
        }
      ]
    },
    {
      "width": 458, "height": 285,
      "data": {"name": "p4"},
      "resolve": {"axis": {"x": "independent", "y": "independent"}},
      "layer": [
        {
          "transform": [{"filter": "datum.series === 'Raw'"}],
          "mark": {"type": "area", "fillOpacity": 0.25, "stroke": "#0000FF", "strokeWidth": 1.6, "strokeDash": [0.01, 5], "strokeCap": "round", "strokeOpacity": 1},
          "encoding": {
            "x": {"field": "x", "type": "quantitative", "scale": {"domain": [-0.04, 1.04], "nice": false, "zero": false}, "axis": {"orient": "bottom", "title": "Sibling Effect", "values": [0, 0.2, 0.4, 0.6, 0.8, 1], "format": ".1f"}},
            "y": {"field": "lo", "type": "quantitative", "scale": {"domain": [-0.04, 1.04], "nice": false, "zero": false}, "axis": {"orient": "left", "title": "Transitivity", "values": [0, 0.2, 0.4, 0.6, 0.8, 1], "format": ".1f"}},
            "y2": {"field": "hi"},
            "color": {"field": "series", "type": "nominal", "scale": {"domain": ["Raw", "Dichotomized", "Mean", "95% Quantiles"], "range": ["#0000FF", "#FF0000", "#000000", "#000000"]}}
          }
        },
        {
          "transform": [{"filter": "datum.series === 'Raw'"}],
          "mark": {"type": "line", "strokeWidth": 3, "strokeCap": "round", "strokeJoin": "round"},
          "encoding": {
            "x": {"field": "x", "type": "quantitative", "scale": {"domain": [-0.04, 1.04], "nice": false, "zero": false}, "axis": {"orient": "top", "title": "Transitivity by Sibling Effect,", "titleX": 267.7, "titleAlign": "right", "titleFontWeight": "bold"}},
            "y": {"field": "mean", "type": "quantitative", "scale": {"domain": [-0.04, 1.04], "nice": false, "zero": false}, "axis": null},
            "color": {"field": "series", "type": "nominal", "scale": {"domain": ["Raw", "Dichotomized", "Mean", "95% Quantiles"], "range": ["#0000FF", "#FF0000", "#000000", "#000000"]}}
          }
        },
        {
          "transform": [{"filter": "datum.series === 'Dichotomized'"}],
          "mark": {"type": "area", "fillOpacity": 0.25, "stroke": "#FF0000", "strokeWidth": 1.6, "strokeDash": [0.01, 5], "strokeCap": "round", "strokeOpacity": 1},
          "encoding": {
            "x": {"field": "x", "type": "quantitative", "scale": {"domain": [-0.04, 1.04], "nice": false, "zero": false}, "axis": {"orient": "top", "title": "|V| = 25, d = 0.125", "titleX": 276.7, "titleAlign": "left", "titleFontWeight": "normal"}},
            "y": {"field": "lo", "type": "quantitative", "scale": {"domain": [-0.04, 1.04], "nice": false, "zero": false}, "axis": null},
            "y2": {"field": "hi"},
            "color": {"field": "series", "type": "nominal", "scale": {"domain": ["Raw", "Dichotomized", "Mean", "95% Quantiles"], "range": ["#0000FF", "#FF0000", "#000000", "#000000"]}}
          }
        },
        {
          "transform": [{"filter": "datum.series === 'Dichotomized'"}],
          "mark": {"type": "line", "strokeWidth": 3, "strokeCap": "round", "strokeJoin": "round"},
          "encoding": {
            "x": {"field": "x", "type": "quantitative", "scale": {"domain": [-0.04, 1.04], "nice": false, "zero": false}, "axis": null},
            "y": {"field": "mean", "type": "quantitative", "scale": {"domain": [-0.04, 1.04], "nice": false, "zero": false}, "axis": null},
            "color": {"field": "series", "type": "nominal", "scale": {"domain": ["Raw", "Dichotomized", "Mean", "95% Quantiles"], "range": ["#0000FF", "#FF0000", "#000000", "#000000"]}}
          }
        },
        {
          "mark": {"type": "point", "filled": true, "opacity": 0},
          "encoding": {
            "x": {"field": "x", "type": "quantitative", "scale": {"domain": [-0.04, 1.04], "nice": false, "zero": false}, "axis": null},
            "y": {"field": "mean", "type": "quantitative", "scale": {"domain": [-0.04, 1.04], "nice": false, "zero": false}, "axis": null},
            "color": {"field": "series", "type": "nominal", "scale": {"domain": ["Raw", "Dichotomized", "Mean", "95% Quantiles"], "range": ["#0000FF", "#FF0000", "#000000", "#000000"]}},
            "shape": {"field": "series", "type": "nominal", "scale": {"domain": ["Raw", "Dichotomized", "Mean", "95% Quantiles"], "range": ["M-1,-1V1M-0.526,-0.458H0.737V0.458H-0.526Z", "M-1,-1V1M-0.526,-0.458H0.737V0.458H-0.526Z", "M-1,-1V1M0.526,-0.121H3.789V0.121H0.526Z", "M-1,-1V1M0.573,-0.09H0.753V0.09H0.573Z M1.731,-0.09H1.911V0.09H1.731Z M2.784,-0.09H2.964V0.09H2.784Z"]}}
          }
        }
      ]
    }
  ]
}
